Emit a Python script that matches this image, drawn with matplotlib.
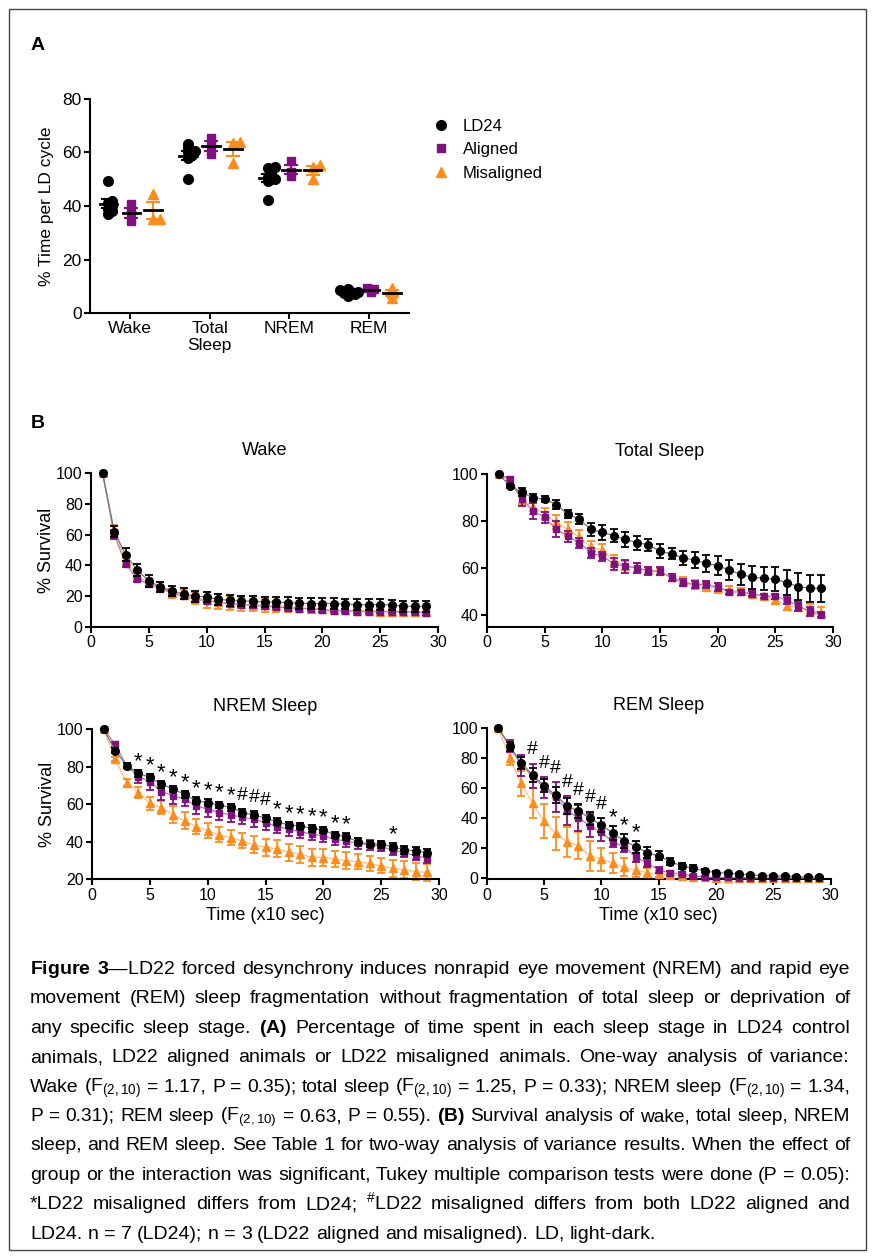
import matplotlib.pyplot as plt
import numpy as np
from matplotlib.lines import Line2D
from matplotlib.patches import Rectangle

plt.rcParams["font.family"] = ["Liberation Sans", "DejaVu Sans"]
plt.rcParams["mathtext.fontset"] = "custom"
plt.rcParams["mathtext.rm"] = "Liberation Sans"
plt.rcParams["mathtext.it"] = "Liberation Sans:italic"
plt.rcParams["mathtext.bf"] = "Liberation Sans:bold"

BLACK = "#000000"
PURPLE = "#800f80"
ORANGE = "#ff8c1a"

# ---- panel A: % time per LD cycle, one value per animal
stages = ["Wake", "Total\nSleep", "NREM", "REM"]
a_ld24 = [[49.3, 42, 41, 40, 39, 38, 37],
          [63, 61.5, 60.5, 60, 59, 58, 50],
          [54.6, 54.2, 52, 51, 50, 49.5, 42.4],
          [9, 8.5, 8, 8, 7.5, 7, 6.5]]
a_aligned = [[40.9, 37.3, 34.3], [65.3, 62.8, 59.3], [56.8, 52.8, 51.1], [9.3, 9.0, 8.0]]
a_misaligned = [[44.4, 35.3, 35.3], [64, 63.5, 56], [55.3, 54.7, 50], [9.3, 7.4, 5.6]]
group_names = ["LD24", "Aligned", "Misaligned"]

# ---- panel B: % survival vs time bin (x10 s), mean and SEM
time = [1, 2, 3, 4, 5, 6, 7, 8, 9, 10, 11, 12, 13, 14, 15,
        16, 17, 18, 19, 20, 21, 22, 23, 24, 25, 26, 27, 28, 29]

wake_ld24 = [100, 62, 47, 36.8, 30, 26, 23.4, 21.6, 20, 19.5, 18, 17.3, 16.9, 16.7, 16.2,
             16.2, 15.8, 15.4, 15.2, 15.2, 15.2, 14.9, 14.5, 14.5, 14.5, 14.3, 13.4, 13.4, 13.4]
wake_ld24_sem = [0, 3.5, 4, 4, 4, 3.5, 3.5, 3.5, 3.5, 3.5, 3.5, 3.5, 3.5, 3.5, 3.5,
                 3.5, 3.5, 3.5, 3.5, 3.5, 3.5, 3.5, 3.5, 3.5, 3.5, 3.5, 3.5, 3.5, 3.8]
wake_al = [100, 60, 41, 31, 28, 25, 22, 20, 18, 17, 16, 15, 14.5, 14, 13.5,
           13, 12.5, 12, 12, 11, 10.5, 10.5, 10, 10, 10, 10, 10, 9.5, 9]
wake_al_sem = [0, 3, 2, 1.5, 1.5, 1.5, 1.5, 1.5, 1.5, 1.5, 1.5, 1.5, 1.5, 1.5, 1.5,
               1.2, 1.2, 1.2, 1.2, 1.2, 1, 1, 1, 1, 1, 1, 1, 1, 1]
wake_mis = [100, 63, 43, 33, 29, 26, 22, 21, 19, 17.5, 16.5, 15.5, 15, 14.5, 14,
            13.5, 13, 12.5, 12, 11.5, 11, 11, 10.5, 10.5, 10, 10, 10, 10, 9.5]
wake_mis_sem = [0, 3, 2, 2.5, 2.5, 3, 3, 3, 4, 5, 5, 4.5, 4.5, 4, 4,
                3.5, 3, 3, 2.5, 2, 2, 2, 2, 2, 2, 2, 2, 2, 2]

tot_ld24 = [100, 94.9, 92.2, 89.9, 89.3, 87.0, 82.9, 80.8, 76.4, 75.1, 73.8, 72.2, 70.8, 69.9, 67.1,
            66.0, 64.3, 63.4, 62.0, 61.0, 59.1, 57.3, 56.0, 55.7, 55.1, 53.7, 52.1, 51.4, 51.3]
tot_ld24_sem = [0, 0.8, 1.7, 1.5, 1.3, 2.0, 1.6, 2.0, 2.7, 3.0, 2.7, 3.2, 3.0, 2.5, 2.9,
                2.3, 3.1, 3.4, 3.7, 4.1, 4.3, 4.6, 4.9, 4.9, 5.1, 5.4, 5.7, 5.7, 5.6]
tot_al = [100, 97.9, 89.3, 84.3, 81.5, 76.5, 73.5, 70.7, 66.4, 65.0, 61.8, 60.8, 60.0, 58.7, 58.6,
          55.8, 53.7, 52.9, 53.0, 51.9, 49.8, 49.7, 49.0, 48.0, 48.0, 46.3, 43.7, 41.5, 40.1]
tot_al_sem = [0, 0.8, 3, 3.5, 2.5, 3.5, 2.3, 2, 2, 2, 2.5, 2.8, 2.2, 1.8, 1.8,
              1.5, 1.5, 1.5, 1.5, 1.5, 1, 1, 1, 0.8, 1, 1.5, 2, 2, 1]
tot_mis = [100, 97, 89, 86, 83, 79.5, 76.5, 73, 69, 67.5, 63, 61, 60, 59, 58.5,
           56, 54.5, 53, 52, 51.5, 50.5, 50, 49, 48, 46.5, 44, 43.5, 42, 41]
tot_mis_sem = [0, 1, 2, 3, 2.5, 3, 3, 3, 2.5, 2.5, 2.5, 2, 2, 1.5, 1.5,
               1.5, 1.5, 2, 1.5, 2, 2, 1.5, 1.5, 1, 2, 2, 2, 2.5, 2.5]

nrem_ld24 = [100, 88.5, 80.5, 76.4, 74.3, 70.6, 68.1, 65.2, 61.9, 60.8, 59.6, 58.3, 55.5, 54.3, 52.5,
             50.7, 48.9, 48.4, 47.2, 46.3, 43.6, 42.7, 40.0, 38.8, 38.7, 37.4, 35.6, 35.1, 34.2]
nrem_ld24_sem = [0, 1.5, 1.5, 1.8, 1.8, 1.8, 1.8, 1.8, 1.8, 1.8, 1.8, 1.8, 1.8, 1.8, 1.8,
                 1.8, 1.8, 1.8, 1.8, 1.8, 1.8, 1.8, 1.8, 1.8, 1.8, 2, 2, 2, 2]
nrem_al = [100, 91.8, 80.5, 74.6, 72.0, 66.7, 64.5, 62.8, 59.0, 57.4, 55.5, 54.3, 53.0, 52.0, 50.2,
           48.0, 46.8, 45.4, 44.1, 43.0, 41.3, 40.4, 39.1, 38.3, 37.4, 35.6, 34.2, 32.6, 31.2]
nrem_al_sem = [0, 1.5, 1.5, 3.5, 4.3, 4.5, 4.3, 4, 4, 4, 4, 4, 3.8, 4, 4,
               3.5, 3.5, 3.3, 3, 3, 3, 3, 2.8, 2.5, 2.5, 2.5, 2.5, 2.5, 2.5]
nrem_mis = [100, 84, 71.5, 66.1, 60.5, 58.2, 54.3, 51.1, 48.1, 45.9, 43.6, 42.2, 40.4, 38.3, 37.1,
            36.2, 34.4, 33.4, 31.8, 31.6, 30.8, 29.8, 29.4, 28.5, 27.1, 25.8, 25.0, 24.1, 23.7]
nrem_mis_sem = [0, 1, 2, 3, 3.5, 3.5, 4.5, 4.5, 4, 4, 4, 4, 4, 4.5, 4.5,
                4.5, 4.5, 4.5, 4.5, 4.5, 4.5, 4.5, 4, 4, 4, 4.5, 4.5, 4.5, 4.5]

rem_ld24 = [100, 87.8, 76.8, 68.6, 61.5, 55.3, 48.0, 44.7, 39.8, 35.4, 29.9, 24.8, 21.0, 17.0, 14.8,
            11.1, 8.2, 6.6, 4.9, 3.8, 3.3, 2.7, 2.2, 1.8, 1.5, 1.5, 1.1, 0.7, 0.7]
rem_ld24_sem = [0, 3, 4, 4.5, 4.5, 5, 5.5, 4.5, 4.5, 4.5, 4.5, 4.5, 4, 3.5, 3,
                2.5, 2, 2, 1, 0.8, 0.8, 0.6, 0.5, 0.5, 0.5, 0.5, 0.5, 0.5, 0.5]
rem_al = [100, 88, 75, 68, 60, 54, 45, 40, 35, 30.5, 24, 21, 14, 10, 5.5,
          3.5, 3, 1.5, 1, 0.5, 0.5, 0.4, 0.3, 0.3, 0.2, 0.2, 0.2, 0.2, 0.2]
rem_al_sem = [0, 4, 7, 8, 7, 10, 9.5, 8.5, 7.5, 6, 3, 3.5, 3, 2.5, 2,
              1.5, 1, 0.8, 0.6, 0.4, 0.3, 0.3, 0.2, 0.2, 0.2, 0.2, 0.2, 0.2, 0.2]
rem_mis = [100, 80, 63, 49.8, 38, 29.9, 24.3, 21.5, 15, 12.6, 10, 7.3, 5.5, 3.8, 2.7,
           2.2, 1.5, 1, 0.5, 0.3, 0.2, 0.2, 0.1, 0.1, 0.1, 0.1, 0.1, 0.1, 0.1]
rem_mis_sem = [0, 5, 8.5, 10, 11.5, 11, 10, 9, 10, 7.5, 6.5, 6, 5, 3, 2,
               1.5, 1, 0.8, 0.5, 0.3, 0.2, 0.2, 0.1, 0.1, 0.1, 0.1, 0.1, 0.1, 0.1]

# Tukey results (time bins)
nrem_star = [4, 5, 6, 7, 8, 9, 10, 11, 12, 16, 17, 18, 19, 20, 21, 22, 26]
nrem_hash = [13, 14, 15]
rem_hash = [4, 5, 6, 7, 8, 9, 10]
rem_star = [11, 12, 13]

caption = [
    r"$\mathbf{Figure}$ $\mathbf{3}$—LD22 forced desynchrony induces nonrapid eye movement (NREM) and rapid eye",
    "movement (REM) sleep fragmentation without fragmentation of total sleep or deprivation of",
    r"any specific sleep stage. $\mathbf{(A)}$ Percentage of time spent in each sleep stage in LD24 control",
    "animals, LD22 aligned animals or LD22 misaligned animals. One-way analysis of variance:",
    r"Wake (F$_{(2,10)}$ = 1.17, P = 0.35); total sleep (F$_{(2,10)}$ = 1.25, P = 0.33); NREM sleep (F$_{(2,10)}$ = 1.34,",
    r"P = 0.31); REM sleep (F$_{(2,10)}$ = 0.63, P = 0.55). $\mathbf{(B)}$ Survival analysis of wake, total sleep, NREM",
    "sleep, and REM sleep. See Table 1 for two-way analysis of variance results. When the effect of",
    "group or the interaction was significant, Tukey multiple comparison tests were done (P = 0.05):",
    r"*LD22 misaligned differs from LD24; $^{\#}$LD22 misaligned differs from both LD22 aligned and",
    "LD24. n = 7 (LD24); n = 3 (LD22 aligned and misaligned). LD, light-dark.",
]

W, H = 872, 1259


def rect(x0, y0, x1, y1):
    return [x0 / W, 1 - y1 / H, (x1 - x0) / W, (y1 - y0) / H]


def style(ax, fs):
    for s in ("top", "right"):
        ax.spines[s].set_visible(False)
    for s in ("left", "bottom"):
        ax.spines[s].set_linewidth(1.5)
    ax.tick_params(direction="out", length=4, width=1.5, labelsize=fs, pad=2)


def swarm(ax, xc, vals, diam=4.0):
    """spread overlapping points sideways (pixel based)"""
    pts = ax.transData.transform(np.column_stack([np.full(len(vals), xc), vals]))
    inv = ax.transData.inverted()
    placed, xs = [], np.zeros(len(vals))
    for i in np.argsort(vals):
        px, py = pts[i]
        for k in (0, 1, -1, 2, -2, 3, -3):
            cx = px + k * diam * 0.9
            if all((cx - qx) ** 2 + (py - qy) ** 2 >= diam ** 2 for qx, qy in placed):
                break
        placed.append((cx, py))
        xs[i] = inv.transform((cx, py))[0]
    return xs


fig = plt.figure(figsize=(W / 100, H / 100), dpi=100)
fig.patches.append(Rectangle((9 / W, 1 - 1250 / H), 857 / W, 1241 / H, transform=fig.transFigure,
                             fill=False, edgecolor="#444444", lw=1.0))

fig.text(38 / W, 1 - 45 / H, "A", fontsize=14, fontweight="bold", ha="center", va="center")
fig.text(38 / W, 1 - 423 / H, "B", fontsize=14, fontweight="bold", ha="center", va="center")

# ---------------- panel A
ax = fig.add_axes(rect(90, 99, 409, 313))
style(ax, 12.5)
ax.set_xlim(-0.5, 3.5)
ax.set_ylim(0, 80)
ax.set_yticks([0, 20, 40, 60, 80])
ax.set_xticks(range(len(stages)))
ax.set_xticklabels(stages, fontsize=12.5, linespacing=1.1)
ax.set_ylabel("% Time per LD cycle", fontsize=12.5, labelpad=6)

groups_a = [(a_ld24, BLACK, "o", 7.0, -0.27),
            (a_aligned, PURPLE, "s", 6.3, 0.02),
            (a_misaligned, ORANGE, "^", 7.0, 0.29)]
for data, col, mk, ms, off in groups_a:
    for i, vals in enumerate(data):
        xc = i + off
        xs = swarm(ax, xc, vals)
        ax.plot(xs, vals, ls="none", marker=mk, ms=ms, color=col, clip_on=False, zorder=3)
        m = np.mean(vals)
        se = np.std(vals, ddof=1) / np.sqrt(len(vals))
        ax.errorbar(xc, m, yerr=se, fmt="none", ecolor=col, elinewidth=1.5,
                    capsize=5, capthick=1.5, zorder=4)
        ax.plot([xc - 0.11, xc + 0.11], [m, m], color=BLACK, lw=2, zorder=5)

handles = [Line2D([], [], ls="none", marker=mk, ms=ms, color=col) for _, col, mk, ms, _ in groups_a]
fig.legend(handles, group_names, loc="upper left", bbox_to_anchor=(433 / W, 1 - 119 / H),
           frameon=False, fontsize=12, handlelength=1.0, handletextpad=0.8,
           labelspacing=0.5, borderpad=0, borderaxespad=0)

# ---------------- panel B
panels = [
    ("Wake", rect(91, 473, 438, 627), (0, 100), [0, 20, 40, 60, 80, 100],
     [(wake_mis, wake_mis_sem), (wake_al, wake_al_sem), (wake_ld24, wake_ld24_sem)], False, []),
    ("Total Sleep", rect(487, 474, 833, 626.7), (35, 100), [40, 60, 80, 100],
     [(tot_mis, tot_mis_sem), (tot_al, tot_al_sem), (tot_ld24, tot_ld24_sem)], False, []),
    ("NREM Sleep", rect(92, 729, 439, 879.3), (20, 100), [20, 40, 60, 80, 100],
     [(nrem_mis, nrem_mis_sem), (nrem_al, nrem_al_sem), (nrem_ld24, nrem_ld24_sem)], True,
     [(nrem_star, "*"), (nrem_hash, "#")]),
    ("REM Sleep", rect(486.7, 727.7, 830.7, 879.3), (-0.7, 100), [0, 20, 40, 60, 80, 100],
     [(rem_mis, rem_mis_sem), (rem_al, rem_al_sem), (rem_ld24, rem_ld24_sem)], True,
     [(rem_hash, "#"), (rem_star, "*")]),
]
looks = [(ORANGE, "#ffc080", "^", 5.5), (PURPLE, "#b779b7", "s", 5.0), (BLACK, "#777777", "o", 5.5)]

for i, (title, pos, ylim, yticks, series, bottom, marks) in enumerate(panels):
    ax = fig.add_axes(pos)
    style(ax, 11.5)
    ax.set_xlim(0, 30)
    ax.set_ylim(*ylim)
    ax.set_xticks([0, 5, 10, 15, 20, 25, 30])
    ax.set_yticks(yticks)
    ax.set_title(title, fontsize=13, pad=13)
    if i % 2 == 0:
        ax.set_ylabel("% Survival", fontsize=13, labelpad=1)
    if bottom:
        ax.set_xlabel("Time (x10 sec)", fontsize=13, labelpad=3)
    for z, ((m, s), (col, light, mk, ms)) in enumerate(zip(series, looks)):
        ax.plot(time, m, color=light, lw=0.9, zorder=2 + z, clip_on=False)
        eb = ax.errorbar(time, m, yerr=s, fmt=mk, color=col, ms=ms, elinewidth=1.3,
                         capsize=3, capthick=1.3, zorder=2.5 + z)
        for art in eb.get_children():
            art.set_clip_on(False)
    for bins, sym in marks:
        for t in bins:
            k = time.index(t)
            top = max(m[k] + s[k] for m, s in series)
            if sym == "*":
                ax.annotate(sym, (t, top), xytext=(0, 6), textcoords="offset points",
                            ha="center", va="center", fontsize=16)
            else:
                ax.annotate(sym, (t, top), xytext=(0, 10), textcoords="offset points",
                            ha="center", va="center", fontsize=14)

# ---------------- caption, justified line by line
x_left, x_right = 30, 850
base_y, step = 974, 29.4
fs_max = 14.0
rend = fig.canvas.get_renderer()
sp = fig.text(0, 0, "a a", fontsize=fs_max)
nsp = fig.text(0, 0, "aa", fontsize=fs_max)
space_max = sp.get_window_extent(rend).width - nsp.get_window_extent(rend).width
sp.remove()
nsp.remove()
for j, line in enumerate(caption):
    words = line.split(" ")
    y = 1 - (base_y + j * step) / H
    ts = [fig.text(0, y, w, fontsize=fs_max, va="baseline") for w in words]
    widths = [t.get_window_extent(rend).width for t in ts]
    natural = sum(widths) + space_max * (len(ts) - 1)
    scale = min(1.0, (x_right - x_left) / natural)
    if scale < 1.0:
        for t in ts:
            t.set_fontsize(fs_max * scale)
        widths = [t.get_window_extent(rend).width for t in ts]
    if j < len(caption) - 1:
        gap = (x_right - x_left - sum(widths)) / (len(ts) - 1)
    else:
        gap = space_max
    x = x_left
    for t, w in zip(ts, widths):
        t.set_x(x / W)
        x += w + gap

fig.savefig("out.png", dpi=100)
